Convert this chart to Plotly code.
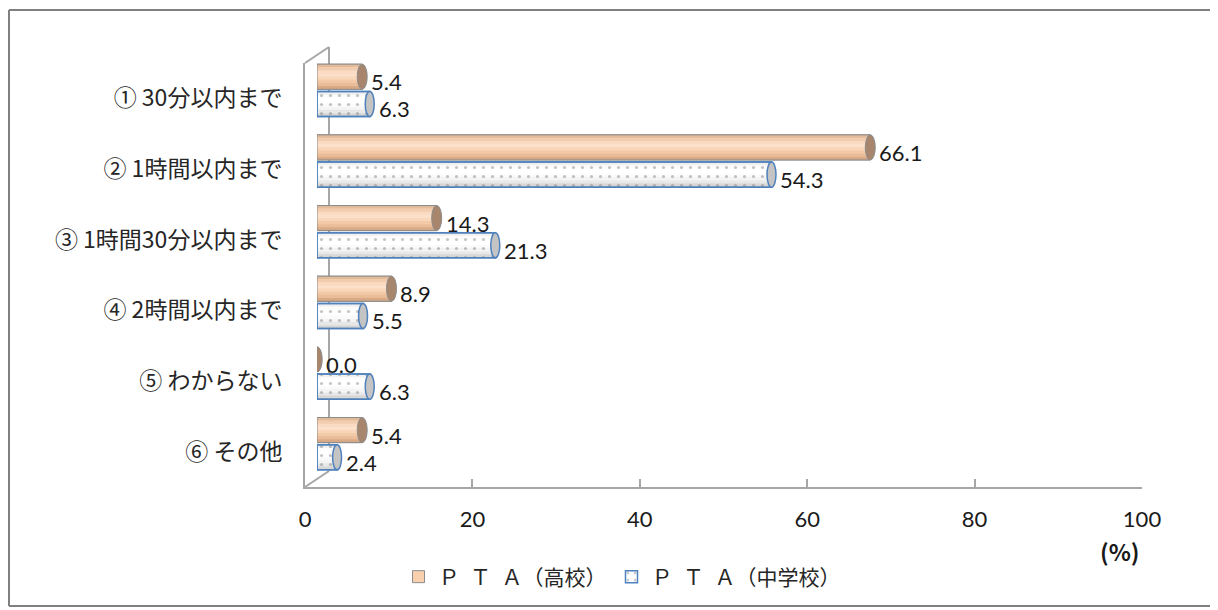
import plotly.graph_objects as go

# ---------------- data ----------------
categories = ["① 30分以内まで", "② 1時間以内まで", "③ 1時間30分以内まで",
              "④ 2時間以内まで", "⑤ わからない", "⑥ その他"]
hs_values = [5.4, 66.1, 14.3, 8.9, 0.0, 5.4]      # ＰＴＡ（高校）
jh_values = [6.3, 54.3, 21.3, 5.5, 6.3, 2.4]      # ＰＴＡ（中学校）
x_ticks = [0, 20, 40, 60, 80, 100]
series_names = ["Ｐ\u2002Ｔ\u2002Ａ（高校）", "Ｐ\u2002Ｔ\u2002Ａ（中学校）"]
unit_label = "(%)"

# ---------------- helpers ----------------
PAGE_OFF = 8                     # default body margin of the html page
W, H = 1218, 610
def px(x):
    return (x - PAGE_OFF) / W
def py(y):
    return 1 - (y - PAGE_OFF) / H

n = len(categories)
rows = [n - 1 - i for i in range(n)]      # first category on top

BAR_W = 0.355
GAP = 0.015
OFF_HS = GAP
OFF_JH = -GAP - BAR_W
NSTRIP = 8
SW = BAR_W / NSTRIP

JP = "Noto Sans CJK JP"
NUM = "Lato"
GRID = "#A6A6A6"
BLUE = "#4F81BD"

hs_strip_colors = ["#E2BB9B", "#F1CCAF", "#FADAC2", "#FCE0CA",
                   "#F9D6B9", "#F3CAA8", "#EABD98", "#D8A986"]
jh_strip_alpha = [0.10, 0.02, 0.0, 0.0, 0.03, 0.08, 0.16, 0.28]

fig = go.Figure()

# invisible trace so the front (labelled) axes are drawn
fig.add_trace(go.Scatter(x=hs_values, y=rows, xaxis="x", yaxis="y",
                         mode="markers", marker=dict(opacity=0),
                         hoverinfo="skip", showlegend=False))

# ---- high school series ----
fig.add_trace(go.Bar(
    x=hs_values, y=rows, orientation="h", name=series_names[0],
    offset=OFF_HS, width=BAR_W, xaxis="x2", yaxis="y2",
    marker=dict(color="#F9D0AE", line=dict(color="#8C8C8C", width=1)),
    hoverinfo="skip", showlegend=True))
for k, c in enumerate(hs_strip_colors):
    fig.add_trace(go.Bar(
        x=hs_values, y=rows, orientation="h",
        offset=OFF_HS + BAR_W - (k + 1) * SW, width=SW * 1.05,
        xaxis="x2", yaxis="y2",
        marker=dict(color=c, line=dict(width=0)),
        hoverinfo="skip", showlegend=False))
fig.add_trace(go.Bar(
    x=hs_values, y=rows, orientation="h",
    offset=OFF_HS, width=BAR_W, xaxis="x2", yaxis="y2",
    marker=dict(color="rgba(0,0,0,0)", line=dict(color="#8C8C8C", width=1)),
    hoverinfo="skip", showlegend=False))

# ---- junior high series ----
fig.add_trace(go.Bar(
    x=jh_values, y=rows, orientation="h", name=series_names[1],
    offset=OFF_JH, width=BAR_W, xaxis="x2", yaxis="y2",
    marker=dict(color="white",
                pattern=dict(shape=".", fgcolor="#8A8A8A", bgcolor="white",
                             size=9, solidity=0.1),
                line=dict(color=BLUE, width=1.5)),
    hoverinfo="skip", showlegend=True))
for k, a in enumerate(jh_strip_alpha):
    if a <= 0:
        continue
    fig.add_trace(go.Bar(
        x=jh_values, y=rows, orientation="h",
        offset=OFF_JH + BAR_W - (k + 1) * SW, width=SW * 1.05,
        xaxis="x2", yaxis="y2",
        marker=dict(color=f"rgba(110,110,110,{a})", line=dict(width=0)),
        hoverinfo="skip", showlegend=False))
fig.add_trace(go.Bar(
    x=jh_values, y=rows, orientation="h",
    offset=OFF_JH, width=BAR_W, xaxis="x2", yaxis="y2",
    marker=dict(color="rgba(0,0,0,0)", line=dict(color=BLUE, width=1.5)),
    hoverinfo="skip", showlegend=False))

shapes = []
annotations = []

# cylinder ends and value labels
for r, v in zip(rows, hs_values):
    y0, y1 = r + OFF_HS, r + OFF_HS + BAR_W
    shapes.append(dict(type="circle", xref="x2", yref="y2", xsizemode="pixel",
                       xanchor=0, x0=-5, x1=5, y0=y0, y1=y1, layer="below",
                       fillcolor="#F3CAA8", line=dict(color="#8C8C8C", width=1)))
    shapes.append(dict(type="circle", xref="x2", yref="y2", xsizemode="pixel",
                       xanchor=v, x0=-5, x1=5, y0=y0, y1=y1, layer="above",
                       fillcolor="#A8856D", line=dict(color="#8C8C8C", width=1)))
    annotations.append(dict(x=v, y=(y0 + y1) / 2, xref="x2", yref="y2",
                            text=f"{v:.1f}", showarrow=False, xanchor="left",
                            xshift=7, yshift=-5,
                            font=dict(family=NUM, size=22, color="#1A1A1A")))
for r, v in zip(rows, jh_values):
    y0, y1 = r + OFF_JH, r + OFF_JH + BAR_W
    shapes.append(dict(type="circle", xref="x2", yref="y2", xsizemode="pixel",
                       xanchor=0, x0=-4.5, x1=4.5, y0=y0, y1=y1, layer="below",
                       fillcolor="white", line=dict(color=BLUE, width=1.5)))
    shapes.append(dict(type="circle", xref="x2", yref="y2", xsizemode="pixel",
                       xanchor=v, x0=-4.5, x1=4.5, y0=y0, y1=y1, layer="above",
                       fillcolor="#C4C4C4", line=dict(color=BLUE, width=1.5)))
    annotations.append(dict(x=v, y=(y0 + y1) / 2, xref="x2", yref="y2",
                            text=f"{v:.1f}", showarrow=False, xanchor="left",
                            xshift=7, yshift=-5,
                            font=dict(family=NUM, size=22, color="#1A1A1A")))

# 3-D walls (decoration)
wall = dict(color=GRID, width=2)
shapes.append(dict(type="line", xref="paper", yref="paper", layer="below",
                   x0=px(329), x1=px(329), y0=py(47), y1=py(471), line=wall))
shapes.append(dict(type="line", xref="paper", yref="paper", layer="below",
                   x0=px(305), x1=px(329), y0=py(63), y1=py(47), line=wall))
shapes.append(dict(type="line", xref="paper", yref="paper", layer="below",
                   x0=px(305), x1=px(329), y0=py(487), y1=py(471), line=wall))
# outer frame (four edges)
frame = dict(color="#808080", width=2)
FL, FR, FT, FB = 9, 1212, 10, 606
for (ax0, ay0, ax1, ay1) in [(FL, FT, FR, FT), (FL, FB, FR, FB),
                             (FL, FT, FL, FB), (FR, FT, FR, FB)]:
    shapes.append(dict(type="line", xref="paper", yref="paper",
                       x0=px(ax0), y0=py(ay0), x1=px(ax1), y1=py(ay1),
                       line=frame))

annotations.append(dict(x=px(1142), y=py(551), xref="paper", yref="paper",
                        text=f"<b>{unit_label}</b>", showarrow=False,
                        yanchor="middle",
                        font=dict(family=JP, size=23, color="#1A1A1A")))

fig.update_layout(
    width=W, height=H,
    margin=dict(l=0, r=0, t=0, b=0, autoexpand=False),
    paper_bgcolor="white", plot_bgcolor="rgba(0,0,0,0)",
    barmode="overlay",
    showlegend=True,
    legend=dict(orientation="h", x=px(622), xanchor="center",
                y=py(577), yanchor="middle",
                font=dict(family=JP, size=21, color="#262626"),
                bgcolor="rgba(0,0,0,0)", itemwidth=30),
    xaxis=dict(domain=[px(305), px(1142)], range=[0, 100], anchor="y",
               automargin=False,
               tickvals=x_ticks, showgrid=False, zeroline=False,
               showline=True, linecolor=GRID, linewidth=2,
               ticks="inside", ticklen=8, tickwidth=2, tickcolor=GRID,
               ticklabelstandoff=12,
               tickfont=dict(family=NUM, size=22, color="#1A1A1A")),
    yaxis=dict(domain=[py(487), py(63)], range=[-0.5, n - 0.5], anchor="x",
               automargin=False,
               tickvals=rows, ticktext=categories, showgrid=False,
               zeroline=False, showline=True, linecolor=GRID, linewidth=2,
               ticks="", ticklabelstandoff=16,
               tickfont=dict(family=JP, size=23, color="#262626")),
    xaxis2=dict(domain=[px(317), px(1154)], range=[0, 100], anchor="y2",
                automargin=False, visible=False),
    yaxis2=dict(domain=[py(479), py(55)], range=[-0.5, n - 0.5], anchor="x2",
                automargin=False, visible=False),
    shapes=shapes, annotations=annotations,
)

fig.write_html("out.html")
